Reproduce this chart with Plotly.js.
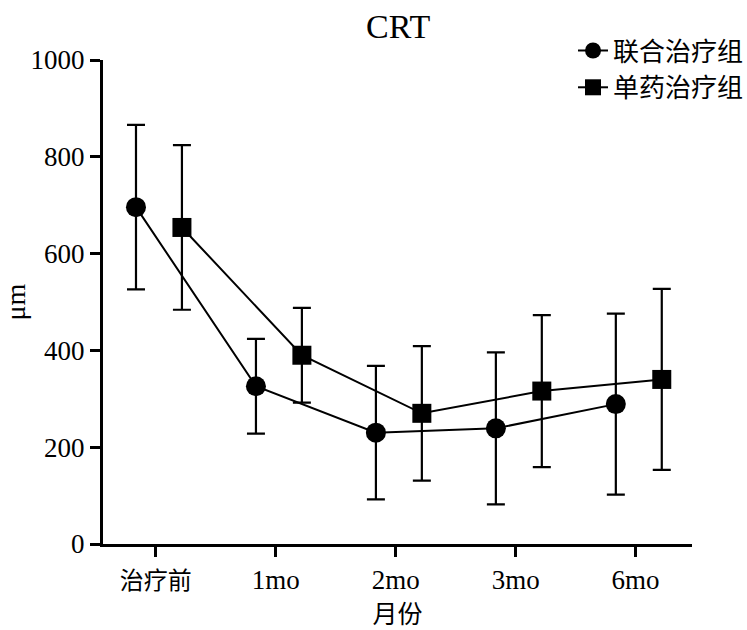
<!DOCTYPE html>
<html>
<head>
<meta charset="utf-8">
<script src="https://cdn.plot.ly/plotly-3.0.1.min.js"></script>
<style>html,body{margin:0;padding:0;background:#fff;}#chart{width:747px;height:630px;}</style>
</head>
<body>
<div id="chart"></div>
<script>
const categories = ['治疗前', '1mo', '2mo', '3mo', '6mo'];
const comboName = '联合治疗组';
const comboMean = [696, 326, 230, 239, 289];
const comboSD = [170, 98, 138, 157, 187];
const monoName = '单药治疗组';
const monoMean = [654, 390, 270, 316, 340];
const monoSD = [170, 98, 139, 157, 187];
const yTicks = [0, 200, 400, 600, 800, 1000];

const FONT = 'Liberation Serif, Times New Roman, Noto Sans CJK SC, serif';
const idx = categories.map((c, i) => i);
const comboOffset = -0.165, monoOffset = 0.218;

function series(name, mean, sd, off, symbol) {
  return {
    type: 'scatter', mode: 'lines+markers', name: name,
    x: idx.map(i => i + off), y: mean,
    line: {color: '#000', width: 2},
    marker: {symbol: symbol, size: symbol === 'circle' ? 20 : 19, color: '#000'},
    error_y: {type: 'data', array: sd, visible: true, color: '#000', thickness: 2.2, width: 9}
  };
}

const data = [
  series(comboName, comboMean, comboSD, comboOffset, 'circle'),
  series(monoName, monoMean, monoSD, monoOffset, 'square')
];

const layout = {
  width: 747, height: 630,
  margin: {l: 103, r: 55, t: 60, b: 86, autoexpand: false},
  paper_bgcolor: '#fff', plot_bgcolor: '#fff',
  font: {family: FONT, color: '#000', size: 27},
  title: {text: 'CRT', x: 0.533, xanchor: 'center', y: 0.958, yanchor: 'middle',
          font: {family: FONT, size: 34, color: '#000'}},
  showlegend: true,
  legend: {x: 0.798, xanchor: 'left', y: 1.068, yanchor: 'top', itemwidth: 30,
           font: {family: FONT, size: 26, color: '#000'}, bgcolor: 'rgba(0,0,0,0)', tracegroupgap: 0},
  xaxis: {
    range: [-0.44, 4.47], tickmode: 'array', tickvals: idx,
    ticktext: categories.map(c => /[\u4e00-\u9fff]/.test(c) ? '<span style="font-size:24px">' + c + '</span>' : c),
    showline: true, linecolor: '#000', linewidth: 3, ticks: 'outside', ticklen: 10, tickwidth: 3, tickcolor: '#000',
    showgrid: false, zeroline: false, tickfont: {family: FONT, size: 27},
    title: {text: '月份', font: {family: FONT, size: 25}, standoff: 12}
  },
  yaxis: {
    range: [0, 1000], tickmode: 'array', tickvals: yTicks,
    showline: true, linecolor: '#000', linewidth: 3, ticks: 'outside', ticklen: 10, tickwidth: 3, tickcolor: '#000',
    showgrid: false, zeroline: false, tickfont: {family: FONT, size: 27},
    title: {text: 'μm', font: {family: FONT, size: 28}, standoff: 6}
  }
};

Plotly.newPlot('chart', data, layout, {displayModeBar: false, staticPlot: true});
</script>
</body>
</html>
